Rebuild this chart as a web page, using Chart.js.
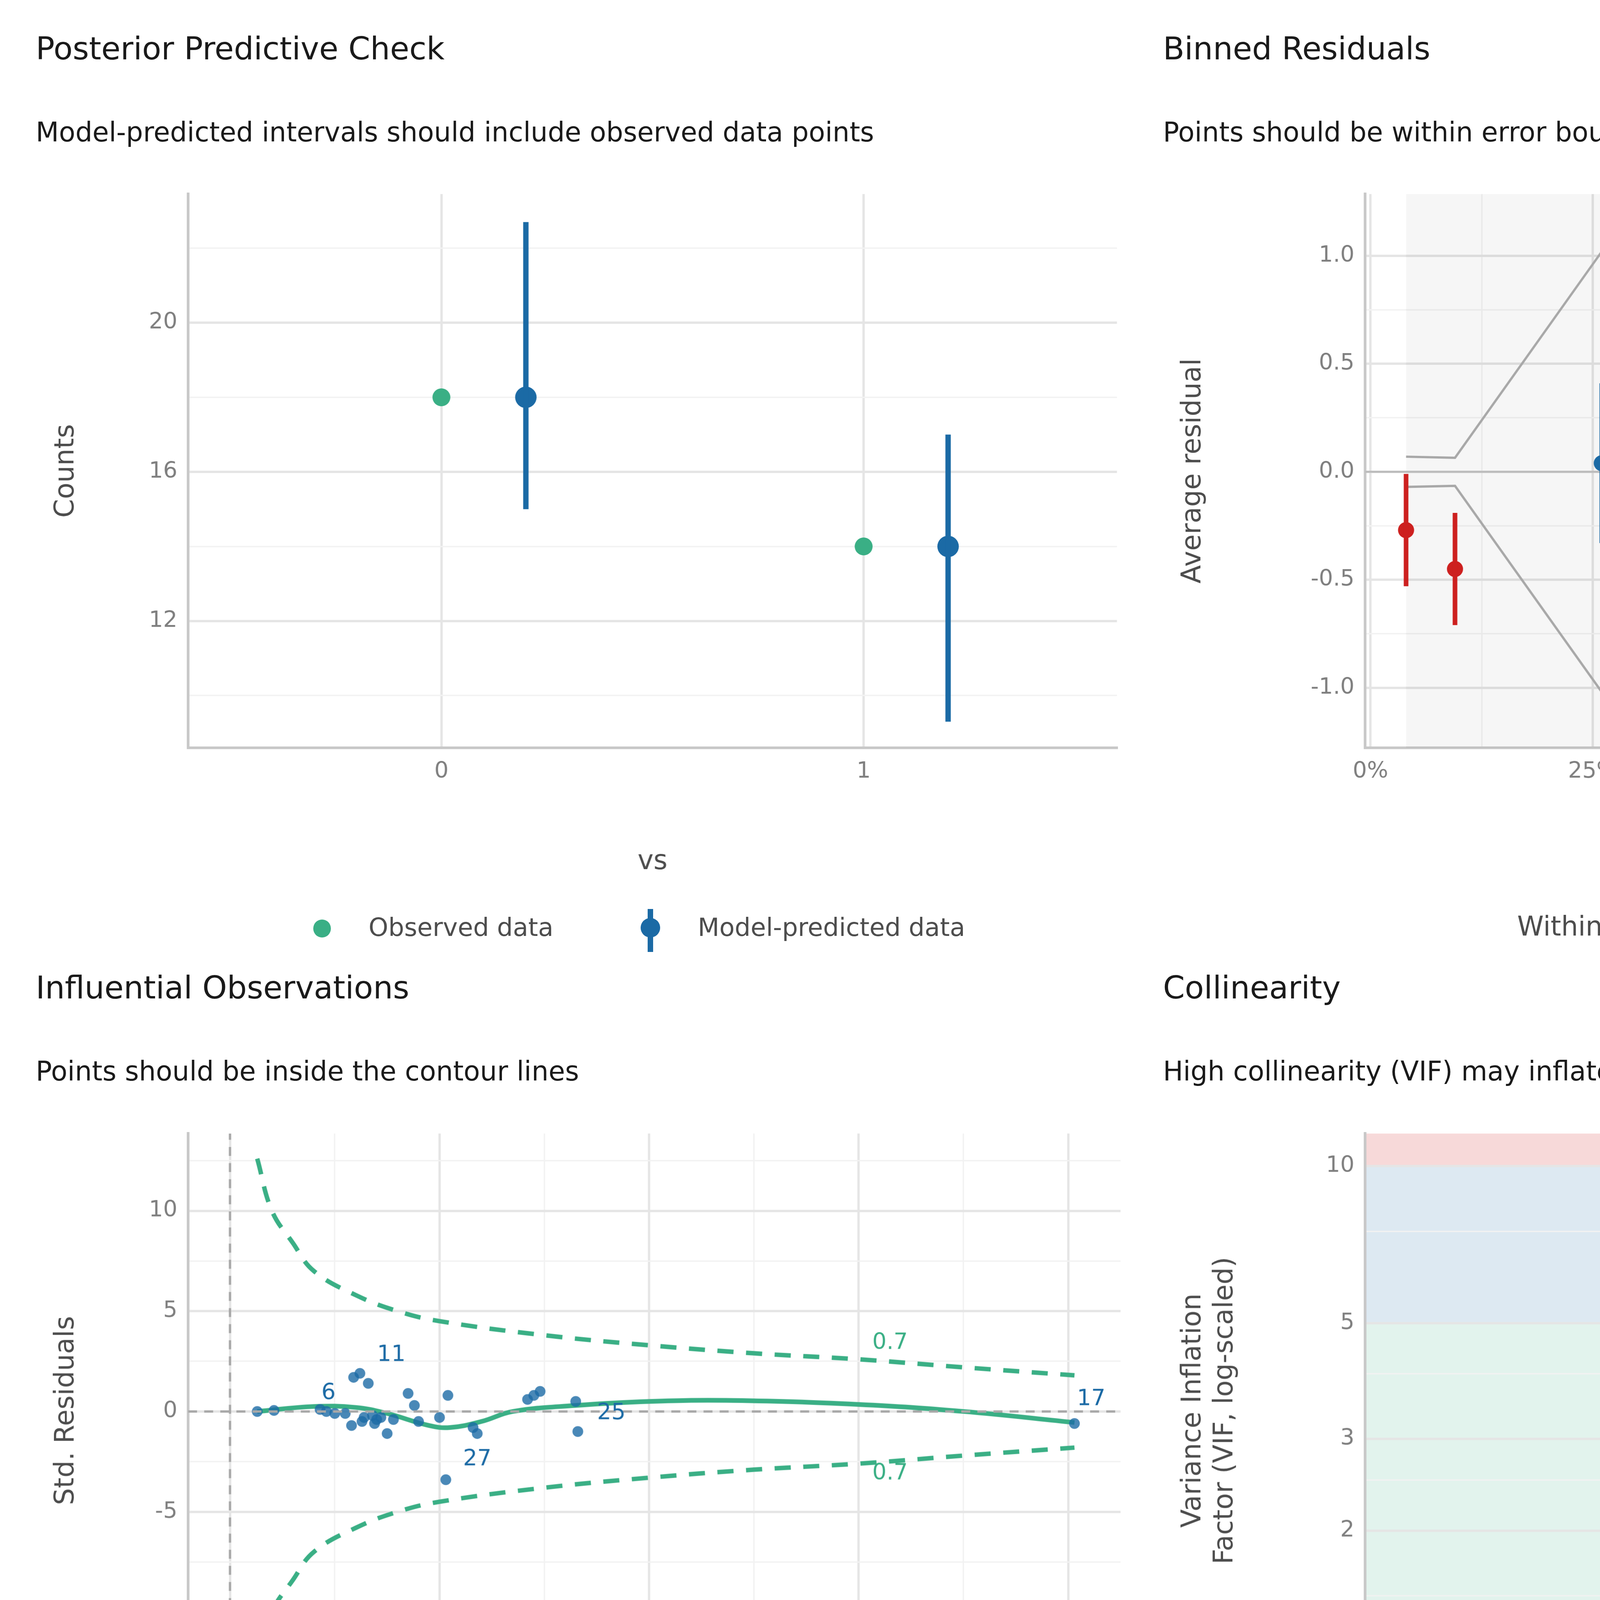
<!DOCTYPE html>
<html><head><meta charset="utf-8">
<script src="https://cdn.jsdelivr.net/npm/chart.js@4"></script>
<style>
body{margin:0;background:#fff;}
#page{position:relative;width:1310px;height:1572px;zoom:4.5802;font-family:"DejaVu Sans",sans-serif;}
canvas{position:absolute;}
.t{position:absolute;white-space:nowrap;color:#1a1a1a;}
.h{font-size:17.5px;}
.s{font-size:15px;}
.lg{font-size:14px;color:#4d4d4d;}
.dot{position:absolute;width:10px;height:10px;border-radius:50%;}
.bar{position:absolute;width:3px;}
</style></head><body>
<div id="page">
<div class="t h" style="left:20px;top:17px">Posterior Predictive Check</div>
<div class="t s" style="left:20px;top:65px">Model-predicted intervals should include observed data points</div>
<div class="t h" style="left:650px;top:17px">Binned Residuals</div>
<div class="t s" style="left:650px;top:65px">Points should be within error bounds</div>
<div class="t h" style="left:20px;top:542px">Influential Observations</div>
<div class="t s" style="left:20px;top:590px">Points should be inside the contour lines</div>
<div class="t h" style="left:650px;top:542px">Collinearity</div>
<div class="t s" style="left:650px;top:590px">High collinearity (VIF) may inflate parameter uncertainty</div>
<div class="t h" style="left:20px;top:1073px">Distribution of Quantile Residuals</div>
<div class="t s" style="left:20px;top:1120px">Dots should fall along the line</div>

<div class="dot" style="left:175px;top:514px;background:#3aaf85"></div>
<div class="t lg" style="left:206px;top:510px">Observed data</div>
<div class="bar" style="left:362px;top:508px;height:24px;background:#1b6aa5"></div>
<div class="dot" style="left:358px;top:513px;width:11px;height:11px;background:#1b6aa5"></div>
<div class="t lg" style="left:390px;top:510px">Model-predicted data</div>

<div class="t lg" style="left:848px;top:509px;font-size:15px">Within error bounds</div>
<div style="position:absolute;left:1031px;top:518px;width:22px;height:2.5px;background:#cd201f"></div>
<div class="dot" style="left:1037px;top:514px;width:9px;height:9px;background:#cd201f"></div>
<div class="t lg" style="left:1068px;top:510px">no</div>
<div style="position:absolute;left:1086px;top:518px;width:22px;height:2.5px;background:#1b6aa5"></div>
<div class="dot" style="left:1092px;top:514px;width:9px;height:9px;background:#1b6aa5"></div>
<div class="t lg" style="left:1123px;top:510px">yes</div>

<div class="bar" style="left:975px;top:1038px;height:24px;background:#3aaf85"></div>
<div class="dot" style="left:971px;top:1045px;background:#3aaf85"></div>
<div class="t lg" style="left:1002px;top:1041px">Low (&lt; 5)</div>

<canvas id="c1"></canvas><canvas id="c2"></canvas><canvas id="c3"></canvas><canvas id="c4"></canvas><canvas id="c5"></canvas>
</div>
<script>
// panel 1: posterior predictive check
const ppcCats = ['0', '1'];
const ppcObs = [18, 14];
const ppcPred = [18, 14];
const ppcLo = [15, 9.3];
const ppcHi = [22.7, 17];

// panel 2: binned residuals
const binX = [4, 9.5, 26, 48, 71.5, 97];
const binY = [-0.27, -0.45, 0.04, -0.2, 0.82, -0.23];
const binLo = [-0.53, -0.71, -0.33, -0.6, 0.56, -0.55];
const binHi = [-0.01, -0.19, 0.41, 0.2, 1.08, 0.08];
const binOk = [false, false, true, true, false, true];
const boundX = [4, 9.5, 26, 48, 71.5, 97];
const boundUp = [0.07, 0.065, 1.02, 1.16, 0.2, 0.77];

// panel 3: influential observations
const levX = [0.013, 0.021, 0.043, 0.046, 0.05, 0.055, 0.058, 0.059, 0.062, 0.063, 0.064, 0.066, 0.068, 0.069, 0.07, 0.072,
  0.075, 0.078, 0.085, 0.088, 0.09, 0.1, 0.103, 0.104, 0.116, 0.118, 0.142, 0.145, 0.148, 0.165, 0.166, 0.403];
const levY = [0, 0.05, 0.1, 0, -0.1, -0.1, -0.7, 1.7, 1.9, -0.5, -0.3, 1.4, -0.2, -0.6, -0.4, -0.3,
  -1.1, -0.4, 0.9, 0.3, -0.5, -0.3, -3.4, 0.8, -0.8, -1.1, 0.6, 0.8, 1.0, 0.5, -1.0, -0.6];
const levLabels = ['6', '11', '27', '25', '17'];
const levLabX = [0.047, 0.077, 0.118, 0.182, 0.411];
const levLabY = [0.9, 2.8, -2.4, -0.1, 0.6];
const smoothX = [0.013, 0.04, 0.06, 0.075, 0.095, 0.105, 0.12, 0.135, 0.165, 0.2, 0.24, 0.3, 0.35, 0.403];
const smoothY = [0, 0.25, 0.2, -0.1, -0.7, -0.8, -0.5, 0, 0.3, 0.5, 0.55, 0.35, 0, -0.55];
const contX = [0.013, 0.02, 0.03, 0.04, 0.06, 0.08, 0.1, 0.15, 0.2, 0.25, 0.3, 0.35, 0.403];
const contY = [12.6, 10, 8.4, 7, 5.8, 5.0, 4.5, 3.8, 3.3, 2.9, 2.6, 2.2, 1.8];

// panel 4: collinearity
const vifTerms = ['mpg', 'wt'];
const vifVal = [2.62, 2.62];
const vifLo = [1.78, 1.78];
const vifHi = [4.4, 4.4];

// panel 5: quantile residuals
const qqX = [];
for (let i = 1; i <= 32; i++) qqX.push((i - 0.5) / 32);
const qqY = [0.01, 0.015, 0.035, 0.095, 0.098, 0.102, 0.23, 0.235, 0.305, 0.315, 0.35, 0.44, 0.455, 0.47, 0.5, 0.5,
  0.5, 0.505, 0.52, 0.635, 0.67, 0.72, 0.735, 0.815, 0.84, 0.855, 0.875, 0.88, 0.94, 0.955, 0.98, 0.995];
const qqLineX = [0.0156, 0.984];
const qqLineY = [0.03, 1.07];
const bandX = [0.016, 0.05, 0.1, 0.25, 0.375, 0.5, 0.625, 0.75, 0.875, 0.95, 0.984];
const bandUp = [0.06, 0.15, 0.23, 0.45, 0.62, 0.76, 0.88, 0.98, 1.06, 1.1, 1.11];
const bandLo = [-0.01, 0.03, 0.07, 0.2, 0.31, 0.43, 0.57, 0.72, 0.9, 0.99, 1.03];

const DPR = 4.5802;
const GREEN = '#3aaf85', BLUE = '#1b6aa5', RED = '#cd201f';
const FONT = 'DejaVu Sans';
Chart.defaults.font.family = FONT;
Chart.defaults.animation = false;

function pts(xs, ys) { return xs.map((x, i) => ({ x: x, y: ys[i] })); }

function place(id, left, top, w, h) {
  const c = document.getElementById(id);
  c.style.left = left + 'px'; c.style.top = top + 'px';
  c.width = w; c.height = h;
  return c;
}

function axis(min, max, majors, minors, opts) {
  opts = opts || {};
  const all = majors.concat(minors).sort((a, b) => a - b);
  return Object.assign({
    type: 'linear', min: min, max: max,
    afterBuildTicks: s => { s.ticks = all.map(v => ({ value: v })); },
    ticks: {
      autoSkip: false, maxRotation: 0, color: '#7f7f7f', font: { size: 12.5 }, padding: 6,
      callback: v => majors.includes(v) ? (opts.fmt ? opts.fmt(v) : String(v)) : ''
    },
    grid: {
      drawTicks: false,
      color: c => majors.includes(c.tick.value) ? '#e5e5e5' : '#f2f2f2',
      lineWidth: c => majors.includes(c.tick.value) ? 1.3 : 0.8
    },
    border: { display: true, color: '#c8c8c8', width: 1.5 },
    title: { display: !!opts.title, text: opts.title, color: '#4d4d4d', font: { size: 15 }, padding: { top: 8 } }
  }, opts.extra || {});
}

function fixed(sc, size, horiz) {
  sc.afterFit = s => { if (horiz) s.height = size; else s.width = size; };
  return sc;
}

function errPlugin(sets) {
  return {
    id: 'err',
    afterDatasetsDraw(chart) {
      const ctx = chart.ctx, xs = chart.scales.x, ys = chart.scales.y;
      sets.forEach(set => {
        set.x.forEach((x, i) => {
          const px = xs.getPixelForValue(x);
          ctx.save();
          ctx.strokeStyle = Array.isArray(set.color) ? set.color[i] : set.color;
          ctx.lineWidth = set.width;
          ctx.beginPath();
          ctx.moveTo(px, ys.getPixelForValue(set.lo[i]));
          ctx.lineTo(px, ys.getPixelForValue(set.hi[i]));
          ctx.stroke();
          ctx.restore();
        });
      });
    }
  };
}

// ---------- panel 1
place('c1', 20, 95, 610, 400);
new Chart('c1', {
  type: 'scatter',
  data: { datasets: [
    { data: pts([0, 1], ppcObs), backgroundColor: GREEN, borderWidth: 0, pointRadius: 5 },
    { data: pts([0.2, 1.2], ppcPred), backgroundColor: BLUE, borderWidth: 0, pointRadius: 6 }
  ] },
  options: {
    responsive: false, devicePixelRatio: DPR,
    layout: { padding: 0 },
    plugins: { legend: { display: false }, tooltip: { enabled: false } },
    scales: {
      x: fixed(axis(-0.6, 1.6, [0, 1], [], { title: 'vs', fmt: v => ppcCats[v] }), 77, true),
      y: fixed(axis(8.6, 23.45, [12, 16, 20], [10, 14, 18, 22], { title: 'Counts' }), 85, false)
    }
  },
  plugins: [errPlugin([{ x: [0.2, 1.2], lo: ppcLo, hi: ppcHi, color: BLUE, width: 3 }])]
});

// ---------- panel 2
const binColors = binOk.map(o => o ? BLUE : RED);
place('c2', 650, 95, 637, 400);
new Chart('c2', {
  type: 'scatter',
  data: { datasets: [
    { data: pts([-0.6, 101.8], [0, 0]), showLine: true, borderColor: '#bdbdbd', borderWidth: 1.2, pointRadius: 0 },
    { data: pts(boundX, boundUp), showLine: true, borderColor: '#a8a8a8', borderWidth: 1.3, pointRadius: 0 },
    { data: pts(boundX, boundUp.map(v => -v)), showLine: true, borderColor: '#a8a8a8', borderWidth: 1.3, pointRadius: 0 },
    { data: pts(binX, binY), backgroundColor: binColors, borderWidth: 0, pointRadius: 4.5 }
  ] },
  options: {
    responsive: false, devicePixelRatio: DPR,
    plugins: { legend: { display: false }, tooltip: { enabled: false } },
    scales: {
      x: fixed(axis(-0.6, 101.8, [0, 25, 50, 75, 100], [12.5, 37.5, 62.5, 87.5], { title: 'Estimated Probability of vs', fmt: v => v + '%' }), 77, true),
      y: fixed(axis(-1.278, 1.286, [-1, -0.5, 0, 0.5, 1], [-0.75, -0.25, 0.25, 0.75], { title: 'Average residual', fmt: v => v.toFixed(1) }), 113, false)
    }
  },
  plugins: [errPlugin([{ x: binX, lo: binLo, hi: binHi, color: binColors, width: 2.6 }]), {
    id: 'band',
    beforeDatasetsDraw(chart) {
      const a = chart.chartArea, xs = chart.scales.x, ctx = chart.ctx;
      const x0 = xs.getPixelForValue(boundX[0]), x1 = xs.getPixelForValue(boundX[boundX.length - 1]);
      ctx.save(); ctx.fillStyle = 'rgba(0,0,0,0.035)';
      ctx.fillRect(x0, a.top, x1 - x0, a.bottom - a.top); ctx.restore();
    }
  }]
});

// ---------- panel 3
place('c3', 20, 620, 610, 410);
new Chart('c3', {
  type: 'scatter',
  data: { datasets: [
    { data: pts([-0.02, 0.425], [0, 0]), showLine: true, borderColor: '#a8a8a8', borderDash: [5, 4], borderWidth: 1.3, pointRadius: 0 },
    { data: pts([0, 0], [-13.76, 13.85]), showLine: true, borderColor: '#a8a8a8', borderDash: [5, 4], borderWidth: 1.3, pointRadius: 0 },
    { data: pts(contX, contY), showLine: true, borderColor: GREEN, borderDash: [9, 7], borderWidth: 2.5, pointRadius: 0, tension: 0.4 },
    { data: pts(contX, contY.map(v => -v)), showLine: true, borderColor: GREEN, borderDash: [9, 7], borderWidth: 2.5, pointRadius: 0, tension: 0.4 },
    { data: pts(levX, levY), backgroundColor: 'rgba(27,106,165,0.8)', borderWidth: 0, pointRadius: 3 },
    { data: pts(smoothX, smoothY), showLine: true, borderColor: GREEN, borderWidth: 2.6, pointRadius: 0, tension: 0.4 }
  ] },
  options: {
    responsive: false, devicePixelRatio: DPR,
    plugins: { legend: { display: false }, tooltip: { enabled: false } },
    scales: {
      x: fixed(axis(-0.02, 0.425, [0, 0.1, 0.2, 0.3, 0.4], [0.05, 0.15, 0.25, 0.35], { title: 'Leverage (hᵢᵢ)', fmt: v => v.toFixed(1) }), 87, true),
      y: fixed(axis(-13.76, 13.85, [-10, -5, 0, 5, 10], [-12.5, -7.5, -2.5, 2.5, 7.5, 12.5], { title: 'Std. Residuals' }), 85, false)
    }
  },
  plugins: [{
    id: 'labels',
    afterDatasetsDraw(chart) {
      const ctx = chart.ctx, xs = chart.scales.x, ys = chart.scales.y;
      ctx.save(); ctx.font = '12.5px ' + FONT; ctx.textAlign = 'center'; ctx.textBaseline = 'middle';
      ctx.fillStyle = BLUE;
      levLabels.forEach((t, i) => ctx.fillText(t, xs.getPixelForValue(levLabX[i]), ys.getPixelForValue(levLabY[i])));
      ctx.fillStyle = GREEN;
      ctx.fillText('0.7', xs.getPixelForValue(0.315), ys.getPixelForValue(3.4));
      ctx.fillText('0.7', xs.getPixelForValue(0.315), ys.getPixelForValue(-3.1));
      ctx.restore();
    }
  }]
});

// ---------- panel 4
const zoneLows = [1, 5, 10];
const zoneHighs = [5, 10, 11.55];
const zoneColors = ['rgba(58,175,133,0.15)', 'rgba(27,106,165,0.15)', 'rgba(205,32,31,0.17)'];
place('c4', 650, 620, 637, 360);
const vifMajors = [1, 2, 3, 5, 10], vifMinors = [1.5, 2.5, 4, 7.5];
new Chart('c4', {
  type: 'scatter',
  data: { datasets: [
    { data: pts([0, 1], vifVal), backgroundColor: GREEN, borderWidth: 0, pointRadius: 5 }
  ] },
  options: {
    responsive: false, devicePixelRatio: DPR,
    plugins: { legend: { display: false }, tooltip: { enabled: false } },
    scales: {
      x: fixed(axis(-0.6, 1.6, [0, 1], [], { fmt: v => vifTerms[v] }), 37, true),
      y: fixed(axis(1, 11.55, vifMajors, vifMinors, { title: ['Variance Inflation', 'Factor (VIF, log-scaled)'], extra: { type: 'logarithmic' } }), 113, false)
    }
  },
  plugins: [errPlugin([{ x: [0, 1], lo: vifLo, hi: vifHi, color: GREEN, width: 2.6 }]), {
    id: 'zones',
    beforeDraw(chart) {
      const a = chart.chartArea, ys = chart.scales.y, ctx = chart.ctx;
      ctx.save();
      zoneLows.forEach((lo, i) => {
        const y0 = ys.getPixelForValue(zoneHighs[i]), y1 = ys.getPixelForValue(lo);
        ctx.fillStyle = zoneColors[i];
        ctx.fillRect(a.left, y0, a.right - a.left, y1 - y0);
      });
      ctx.restore();
    }
  }]
});

// ---------- panel 5
place('c5', 20, 1150, 610, 400);
new Chart('c5', {
  type: 'scatter',
  data: { datasets: [
    { data: pts(qqLineX, qqLineY), showLine: true, borderColor: GREEN, borderWidth: 2.6, pointRadius: 0 },
    { data: pts(qqX, qqY), backgroundColor: '#3a7fb8', borderColor: '#1f5f99', borderWidth: 1, pointRadius: 4 }
  ] },
  options: {
    responsive: false, devicePixelRatio: DPR,
    plugins: { legend: { display: false }, tooltip: { enabled: false } },
    scales: {
      x: fixed(axis(-0.032, 1.03, [0, 0.25, 0.5, 0.75, 1], [0.125, 0.375, 0.625, 0.875], { title: 'Standard Uniform Distribution Quantiles', fmt: v => v.toFixed(2) }), 75, true),
      y: fixed(axis(-0.07, 1.18, [0, 0.3, 0.6, 0.9], [0.15, 0.45, 0.75, 1.05], { title: 'Sample Quantiles', fmt: v => v.toFixed(1) }), 85, false)
    }
  },
  plugins: [{
    id: 'qband',
    beforeDatasetsDraw(chart) {
      const xs = chart.scales.x, ys = chart.scales.y, ctx = chart.ctx;
      ctx.save(); ctx.fillStyle = 'rgba(0,0,0,0.085)'; ctx.beginPath();
      bandX.forEach((x, i) => { const p = [xs.getPixelForValue(x), ys.getPixelForValue(bandUp[i])]; i ? ctx.lineTo(p[0], p[1]) : ctx.moveTo(p[0], p[1]); });
      for (let i = bandX.length - 1; i >= 0; i--) ctx.lineTo(xs.getPixelForValue(bandX[i]), ys.getPixelForValue(bandLo[i]));
      ctx.closePath(); ctx.fill(); ctx.restore();
    }
  }]
});
</script>
</body></html>
